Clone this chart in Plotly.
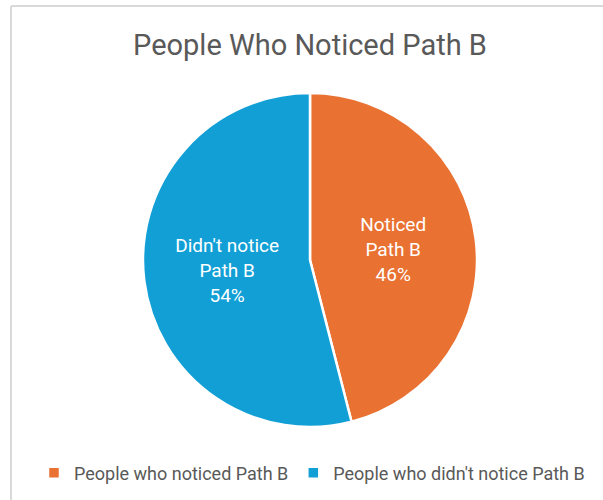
import plotly.graph_objects as go

labels = ["People who noticed Path B", "People who didn't notice Path B"]
short_labels = ["Noticed<br>Path B", "Didn't notice<br>Path B"]
values = [46, 54]
colors = ["#E97132", "#119FD6"]

W, H = 603, 500
cx, cy, r = 310, 260, 167

fig = go.Figure(go.Pie(
    labels=labels,
    values=values,
    customdata=short_labels,
    texttemplate="%{customdata}<br>%{percent:.0%}",
    textposition="inside",
    insidetextorientation="horizontal",
    textfont=dict(color="white", size=19, family="Roboto"),
    marker=dict(colors=colors, line=dict(color="white", width=2.5)),
    sort=False,
    direction="clockwise",
    rotation=0,
    hole=0,
    domain=dict(x=[(cx - r) / W, (cx + r) / W], y=[(H - cy - r) / H, (H - cy + r) / H]),
))

fig.update_layout(
    width=W, height=H,
    margin=dict(l=0, r=0, t=0, b=0),
    paper_bgcolor="white",
    plot_bgcolor="white",
    font=dict(family="Roboto", color="#595959"),
    title=dict(text="People Who Noticed Path B", x=310 / W, xanchor="center",
               y=1 - 45 / H, yanchor="middle", yref="container",
               font=dict(size=29, color="#595959", family="Roboto")),
    legend=dict(orientation="h", x=312 / W, xanchor="center", y=1 - 473 / H, yanchor="middle",
                font=dict(size=18, color="#595959"), itemwidth=30),
    shapes=[
        dict(type="line", xref="paper", yref="paper", x0=11 / W, x1=1, y0=1 - 6 / H, y1=1 - 6 / H,
             line=dict(color="#d9d9d9", width=2)),
        dict(type="line", xref="paper", yref="paper", x0=11 / W, x1=11 / W, y0=0, y1=1 - 6 / H,
             line=dict(color="#d9d9d9", width=2)),
    ],
)

fig.write_html("out.html")
